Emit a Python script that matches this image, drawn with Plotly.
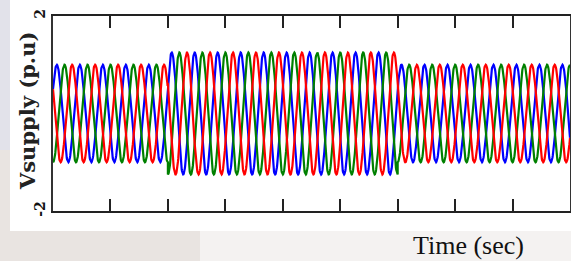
import numpy as np
import plotly.graph_objects as go

# ---- data ----
seg_start = [0.0, 0.1, 0.3]      # s
seg_end = [0.1, 0.3, 0.45]       # s
seg_amp = [1.0, 1.25, 1.0]       # p.u. peak amplitude per segment
freq_hz = 50.0
phase_names = ["Va", "Vb", "Vc"]
phase_colors = ["blue", "green", "red"]
phase_shift_deg = [-60.0, 180.0, 60.0]
x_ticks = [0.05, 0.10, 0.15, 0.20, 0.25, 0.30, 0.35, 0.40]
y_ticks = [-2, 2]
y_ticktext = ["-2", "2"]

fig = go.Figure()
for name, col, ph in zip(phase_names, phase_colors, phase_shift_deg):
    ts, vs = [], []
    for a, b, amp in zip(seg_start, seg_end, seg_amp):
        t = np.linspace(a, b, int((b - a) * 4000) + 1)
        v = amp * np.cos(2 * np.pi * freq_hz * t + np.deg2rad(ph))
        ts.extend(t.tolist())
        vs.extend(v.tolist())
    fig.add_trace(go.Scatter(x=ts, y=vs, mode="lines", name=name,
                             line=dict(color=col, width=2.2), showlegend=False))

W, H = 571, 261
L, R, T, B = 53, 1, 16, 50
pw, ph_ = W - L - R, H - T - B

def px_x(x):
    return (x - L) / pw

def px_y(y):
    return (H - B - y) / ph_

shapes = [
    dict(type="rect", xref="paper", yref="paper", layer="below",
         x0=px_x(200), x1=px_x(571), y0=px_y(261), y1=px_y(231),
         fillcolor="#f4f2f1", line=dict(width=0)),
    dict(type="rect", xref="paper", yref="paper", layer="below",
         x0=px_x(0), x1=px_x(10), y0=px_y(150), y1=px_y(0),
         fillcolor="#e2e2ea", line=dict(width=0)),
    dict(type="rect", xref="paper", yref="paper", layer="below",
         x0=px_x(10), x1=px_x(571), y0=px_y(231), y1=px_y(0),
         fillcolor="white", line=dict(width=0)),
]

fig.update_layout(
    width=W, height=H,
    margin=dict(l=L, r=R, t=T, b=B, autoexpand=False),
    paper_bgcolor="#e9e4e1",
    plot_bgcolor="white",
    shapes=shapes,
    annotations=[
        dict(text="<b>Vsupply (p.u)</b>", xref="paper", yref="paper",
             x=px_x(27), y=px_y(111), textangle=-90, showarrow=False,
             xanchor="center", yanchor="middle",
             font=dict(family="DejaVu Serif", size=21, color="#222")),
        dict(text="Time (sec)", xref="paper", yref="paper",
             x=px_x(468), y=px_y(245), showarrow=False,
             xanchor="center", yanchor="middle",
             font=dict(family="Liberation Serif", size=26, color="#111")),
    ],
)
fig.update_xaxes(range=[0, 0.45], tickvals=x_ticks, showticklabels=False,
                 ticks="inside", ticklen=12, tickwidth=2, tickcolor="#222",
                 showline=True, linecolor="#222", linewidth=2, mirror="ticks",
                 showgrid=False, zeroline=False, automargin=False)
fig.update_yaxes(range=[-2, 2], tickvals=y_ticks, ticktext=y_ticktext,
                 tickangle=-90, ticks="", showline=True, linecolor="#333",
                 linewidth=2, mirror=True, showgrid=False, zeroline=False,
                 automargin=False,
                 tickfont=dict(family="DejaVu Serif", size=14, color="#111", weight="bold"))

fig.write_html("out.html", config={"displayModeBar": False},
               post_script="document.body.style.margin='0';document.body.style.overflow='hidden';")
